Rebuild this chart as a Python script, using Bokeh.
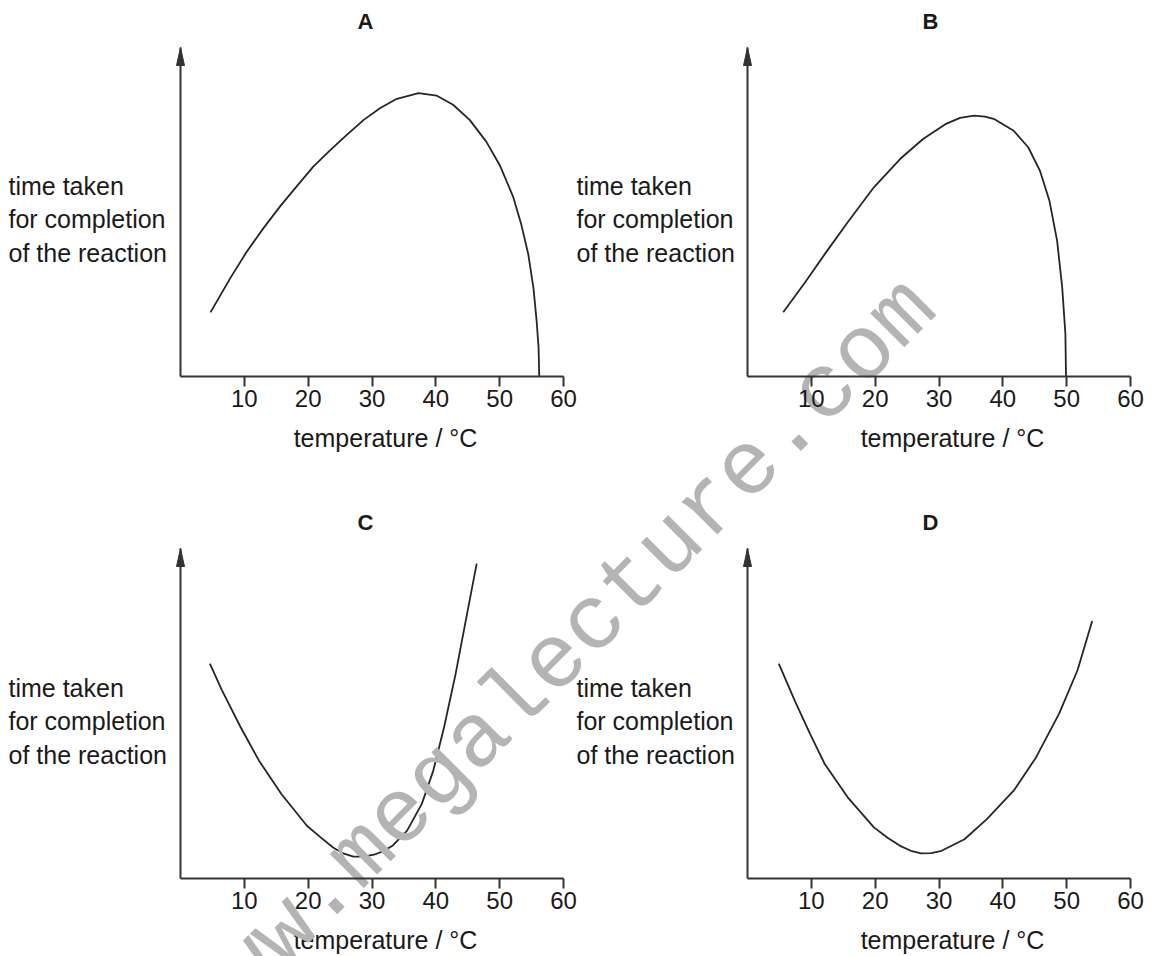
from bokeh.plotting import figure
from bokeh.models import LinearAxis, FixedTicker, Range1d
from bokeh.core.properties import value
from bokeh.embed import file_html
from bokeh.resources import INLINE

# ---- data ----
panel_titles = ["A", "B", "C", "D"]
tick_values = [10, 20, 30, 40, 50, 60]
x_title = "temperature / °C"
y_title = "time taken\nfor completion\nof the reaction"
watermark = "www.megalecture.com"

a_temp = [4.7, 7.8, 10.4, 13.0, 15.6, 18.2, 20.8, 23.5, 26.1, 28.7, 31.3, 33.9, 37.3, 40.1, 42.7, 45.3, 47.9, 50.0, 52.1, 53.4, 54.5, 55.3, 55.8, 56.1, 56.2]
a_time = [19.5, 29.9, 38.0, 45.1, 51.7, 57.8, 63.8, 68.9, 73.5, 78.0, 81.6, 84.4, 86.1, 85.4, 82.6, 78.0, 71.4, 64.3, 54.7, 46.1, 37.0, 26.8, 16.7, 8.6, 0.0]

b_temp = [5.6, 9.2, 12.1, 15.7, 19.8, 23.9, 27.5, 31.0, 33.3, 35.5, 37.2, 38.7, 41.7, 44.0, 45.8, 47.3, 48.5, 49.3, 49.8, 49.9]
b_time = [19.5, 29.1, 37.2, 46.9, 57.5, 66.1, 72.2, 76.7, 78.6, 79.3, 79.0, 78.2, 74.7, 69.6, 62.6, 53.4, 41.3, 27.1, 13.0, 0.0]

c_temp = [4.6, 6.5, 9.4, 12.3, 15.8, 19.8, 22.0, 23.9, 25.5, 27.1, 28.7, 30.3, 31.8, 33.2, 35.5, 37.8, 39.6, 41.3, 43.1, 44.8, 46.4]
c_time = [65.1, 57.0, 45.9, 35.7, 25.6, 16.0, 12.4, 9.4, 7.6, 6.6, 6.6, 7.2, 8.3, 9.9, 14.5, 22.6, 32.7, 45.9, 62.0, 79.3, 95.4]

d_temp = [4.9, 7.4, 9.8, 12.1, 15.7, 19.8, 22.0, 23.9, 25.6, 27.2, 28.8, 30.4, 34.0, 37.5, 41.7, 45.2, 48.8, 51.7, 54.0]
d_time = [65.1, 53.9, 43.8, 34.7, 24.6, 15.5, 12.3, 9.9, 8.4, 7.6, 7.7, 8.4, 11.9, 18.0, 26.6, 36.7, 49.9, 63.1, 78.0]

series = [(a_temp, a_time), (b_temp, b_time), (c_temp, c_time), (d_temp, d_time)]

# ---- page geometry (canvas pixels, y downwards) ----
W, H = 1152, 956
AX = "#333333"
TXT = "#1a1a1a"
FONT = "Liberation Sans"

# x0/x60: canvas x of 0 and 60 degC; y0/y100: canvas y of the x axis and of the arrow tip
geo = [
    dict(x0=180, x60=563, y0=376, y100=47, title=(365, 21), ylab=(8, 219), xlab=(385, 437)),
    dict(x0=747, x60=1130, y0=376, y100=47, title=(930, 21), ylab=(576, 219), xlab=(952, 437)),
    dict(x0=180, x60=563, y0=878, y100=548, title=(365, 522), ylab=(8, 721), xlab=(385, 939)),
    dict(x0=747, x60=1130, y0=878, y100=548, title=(930, 522), ylab=(576, 721), xlab=(952, 939)),
]
WM = (555, 661)  # watermark centre

p = figure(width=W, height=H, output_backend="svg", toolbar_location=None,
           x_range=Range1d(0, W), y_range=Range1d(0, H),
           x_axis_location=None, y_axis_location=None,
           min_border=0, min_border_left=0, min_border_right=0,
           min_border_top=0, min_border_bottom=0)
p.outline_line_color = None
p.grid.visible = False
p.background_fill_color = "white"
p.border_fill_color = "white"

for k, g in enumerate(geo):
    sx = (g["x60"] - g["x0"]) / 60.0
    sy = (g["y0"] - g["y100"]) / 100.0
    xn, yn = f"x{k}", f"y{k}"
    p.extra_x_ranges[xn] = Range1d(-g["x0"] / sx, (W - g["x0"]) / sx)
    p.extra_y_ranges[yn] = Range1d(-(H - g["y0"]) / sy, g["y0"] / sy)

    def dx(cx, g=g, sx=sx):
        return (cx - g["x0"]) / sx

    def dy(cy, g=g, sy=sy):
        return (g["y0"] - cy) / sy

    # x axis at time = 0
    xa = LinearAxis(x_range_name=xn, y_range_name=yn, fixed_location=0, bounds=(0, 60),
                    ticker=FixedTicker(ticks=tick_values, minor_ticks=[]))
    xa.major_tick_out = 10
    xa.major_tick_in = 0
    xa.minor_tick_out = 0
    xa.minor_tick_in = 0
    xa.major_tick_line_color = AX
    xa.major_tick_line_width = 2
    xa.axis_line_color = AX
    xa.axis_line_width = 2
    xa.major_label_standoff = 3
    xa.major_label_text_font = FONT
    xa.major_label_text_font_size = "24px"
    xa.major_label_text_color = TXT
    p.add_layout(xa, "below")

    # y axis at temperature = 0 (line only)
    ya = LinearAxis(x_range_name=xn, y_range_name=yn, fixed_location=0, bounds=(0, 100),
                    ticker=FixedTicker(ticks=[], minor_ticks=[]))
    ya.major_tick_out = 0
    ya.minor_tick_out = 0
    ya.major_label_text_font_size = "0px"
    ya.axis_line_color = AX
    ya.axis_line_width = 2
    p.add_layout(ya, "left")

    # arrow head at the top of the y axis (about 8 px wide, 18 px long)
    hw, hl = 4.0 / sx, 18.0 / sy
    p.patch([-hw, 0, hw], [100 - hl, 100, 100 - hl], x_range_name=xn, y_range_name=yn,
            fill_color=AX, line_color=AX, line_width=1)

    # curve
    temp, tt = series[k]
    p.line(temp, tt, x_range_name=xn, y_range_name=yn, line_color="#262626", line_width=1.8,
           line_join="round")

    # texts
    p.text(x=[dx(g["title"][0])], y=[dy(g["title"][1])], text=[panel_titles[k]],
           x_range_name=xn, y_range_name=yn,
           text_font=value(FONT), text_font_size=value("22px"), text_font_style="bold",
           text_color=TXT, text_align="center", text_baseline="middle")
    p.text(x=[dx(g["ylab"][0])], y=[dy(g["ylab"][1])], text=[y_title],
           x_range_name=xn, y_range_name=yn,
           text_font=value(FONT), text_font_size=value("25px"), text_line_height=1.2,
           text_color=TXT, text_align="left", text_baseline="middle")
    p.text(x=[dx(g["xlab"][0])], y=[dy(g["xlab"][1])], text=[x_title],
           x_range_name=xn, y_range_name=yn,
           text_font=value(FONT), text_font_size=value("25px"),
           text_color=TXT, text_align="center", text_baseline="middle")

# watermark across the whole page (its start runs off the page, as in the reference)
p.text(x=[WM[0]], y=[H - WM[1]], text=[watermark], angle=45, angle_units="deg",
       text_font=value("Liberation Mono"), text_font_size=value("91px"),
       text_color="#b4b4b4", text_align="center", text_baseline="middle")

open("out.html", "w").write(file_html(p, INLINE))
